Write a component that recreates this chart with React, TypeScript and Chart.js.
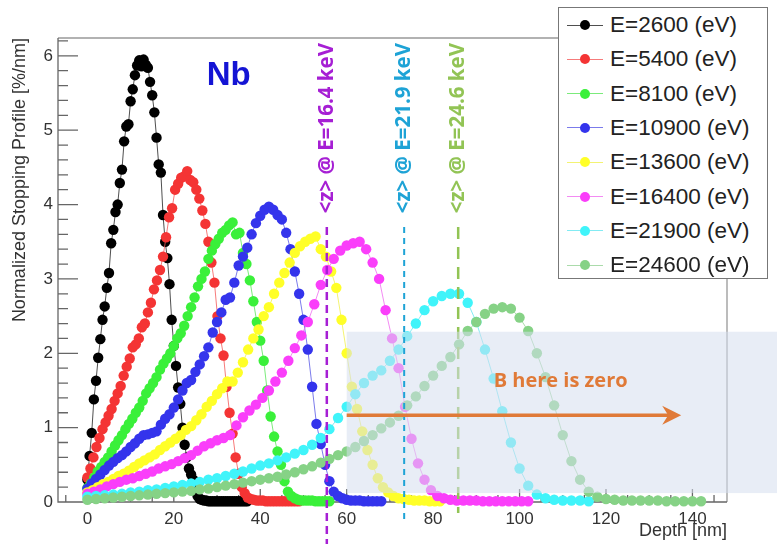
import React, { useEffect, useRef } from 'react';
import { Chart, registerables } from 'chart.js';

Chart.register(...registerables);

// Beam energies (eV), one curve each
const energies = [2600, 5400, 8100, 10900, 13600, 16400, 21900, 24600];

// [depth nm, normalized stopping profile %/nm]
const profile2600: [number, number][] = [
  [0, 0.3], [0.5, 0.62], [1, 0.93], [1.5, 1.38], [2, 1.63], [2.5, 1.94], [3, 2.19], [3.5, 2.45], [4, 2.63], [4.5, 2.88],
  [5, 3.08], [5.5, 3.48], [6, 3.66], [6.5, 3.9], [7, 4.0], [7.5, 4.29], [8, 4.47], [8.5, 4.85], [9, 5.05], [9.5, 5.08],
  [10, 5.39], [10.5, 5.55], [11, 5.74], [11.5, 5.87], [12, 5.94], [12.5, 5.86], [13, 5.95], [13.5, 5.88], [14, 5.84], [14.5, 5.65],
  [15, 5.47], [15.5, 5.24], [16, 4.9], [16.5, 4.54], [17, 4.43], [17.5, 3.86], [18, 3.5], [18.5, 3.28], [19, 2.93], [19.5, 2.45],
  [20, 2.1], [20.5, 1.83], [21, 1.54], [21.5, 1.32], [22, 1.0], [22.5, 0.77], [23, 0.6], [23.5, 0.45], [24, 0.37], [24.5, 0.3],
  [25, 0.16], [25.5, 0.08], [26, 0.04], [26.5, 0.03], [27, 0.02], [27.5, 0.02], [28, 0.01], [28.5, 0.01], [29, 0.01], [29.5, 0.01],
  [30, 0.01], [30.5, 0.01], [31, 0.01], [31.5, 0.01], [32, 0.01], [32.5, 0.01], [33, 0.01], [33.5, 0.01], [34, 0.01], [34.5, 0.01],
  [35, 0.01], [35.5, 0.01], [36, 0.01], [36.5, 0.01], [37, 0.01],
];

const profile5400: [number, number][] = [
  [0, 0.33], [0.7, 0.45], [1.4, 0.6], [2.1, 0.74], [2.8, 0.86], [3.5, 0.98], [4.2, 1.07], [4.9, 1.16], [5.6, 1.25], [6.3, 1.36],
  [7.0, 1.46], [7.7, 1.56], [8.4, 1.7], [9.1, 1.82], [9.8, 1.93], [10.5, 2.08], [11.2, 2.12], [11.9, 2.2], [12.6, 2.35], [13.3, 2.4],
  [14.0, 2.55], [14.7, 2.68], [15.4, 2.86], [16.1, 2.98], [16.8, 3.12], [17.5, 3.3], [18.2, 3.56], [18.9, 3.83], [19.6, 3.95], [20.3, 4.2],
  [21.0, 4.28], [21.7, 4.36], [22.4, 4.38], [23.1, 4.45], [23.8, 4.33], [24.5, 4.3], [25.2, 4.2], [25.9, 4.08], [26.6, 3.92], [27.3, 3.74],
  [28.0, 3.5], [28.7, 3.22], [29.4, 2.95], [30.1, 2.5], [30.8, 2.2], [31.5, 1.97], [32.2, 1.55], [32.9, 1.2], [33.6, 0.92], [34.3, 0.6],
  [35.0, 0.38], [35.7, 0.2], [36.4, 0.12], [37.1, 0.06], [37.8, 0.04], [38.5, 0.03], [39.2, 0.02], [39.9, 0.02], [40.6, 0.02], [41.3, 0.01],
  [42.0, 0.01], [42.7, 0.01], [43.4, 0.01], [44.1, 0.01], [44.8, 0.01], [45.5, 0.01], [46.2, 0.01], [46.9, 0.01], [47.6, 0.01], [48.3, 0.01],
  [49.0, 0.01],
];

const profile8100: [number, number][] = [
  [0, 0.19], [0.8, 0.25], [1.6, 0.33], [2.4, 0.41], [3.2, 0.47], [4.0, 0.54], [4.8, 0.6], [5.6, 0.68], [6.4, 0.76], [7.2, 0.83],
  [8.0, 0.9], [8.8, 0.98], [9.6, 1.05], [10.4, 1.12], [11.2, 1.2], [12.0, 1.27], [12.8, 1.36], [13.6, 1.46], [14.4, 1.53], [15.2, 1.6],
  [16.0, 1.68], [16.8, 1.78], [17.6, 1.86], [18.4, 1.93], [19.2, 2.0], [20.0, 2.1], [20.8, 2.2], [21.6, 2.27], [22.4, 2.37], [23.2, 2.5],
  [24.0, 2.62], [24.8, 2.75], [25.6, 2.9], [26.4, 3.0], [27.2, 3.1], [28.0, 3.27], [28.8, 3.38], [29.6, 3.47], [30.4, 3.54], [31.2, 3.62],
  [32.0, 3.66], [32.8, 3.72], [33.6, 3.76], [34.4, 3.6], [35.2, 3.62], [36.0, 3.35], [36.8, 3.2], [37.6, 2.98], [38.4, 2.7], [39.2, 2.42],
  [40.0, 2.17], [40.8, 1.9], [41.6, 1.5], [42.4, 1.15], [43.2, 0.88], [44.0, 0.68], [44.8, 0.5], [45.6, 0.28], [46.4, 0.14], [47.2, 0.08],
  [48.0, 0.05], [48.8, 0.03], [49.6, 0.02], [50.4, 0.02], [51.2, 0.02], [52.0, 0.02], [52.8, 0.01], [53.6, 0.01], [54.4, 0.01], [55.2, 0.01],
  [56.0, 0.01],
];

const profile10900: [number, number][] = [
  [0, 0.18], [1, 0.25], [2, 0.31], [3, 0.37], [4, 0.43], [5, 0.49], [6, 0.54], [7, 0.59], [8, 0.63], [9, 0.68],
  [10, 0.74], [11, 0.79], [12, 0.85], [13, 0.9], [14, 0.91], [15, 0.93], [16, 0.95], [17, 1.04], [18, 1.12], [19, 1.18],
  [20, 1.27], [21, 1.38], [22, 1.5], [23, 1.6], [24, 1.64], [25, 1.75], [26, 1.85], [27, 1.96], [28, 2.08], [29, 2.28],
  [30, 2.42], [31, 2.55], [32, 2.72], [33, 2.75], [34, 2.95], [35, 3.18], [36, 3.3], [37, 3.42], [38, 3.6], [39, 3.75],
  [40, 3.85], [41, 3.93], [42, 3.97], [43, 3.93], [44, 3.86], [45, 3.8], [46, 3.62], [47, 3.4], [48, 3.1], [49, 2.8],
  [50, 2.45], [51, 2.05], [52, 1.55], [53, 1.05], [54, 0.78], [55, 0.5], [56, 0.28], [57, 0.14], [58, 0.08], [59, 0.05],
  [60, 0.03], [61, 0.02], [62, 0.02], [63, 0.02], [64, 0.01], [65, 0.01], [66, 0.01], [67, 0.01], [68, 0.01],
];

const profile13600: [number, number][] = [
  [0, 0.13], [1.2, 0.16], [2.4, 0.2], [3.6, 0.24], [4.8, 0.27], [6.0, 0.31], [7.2, 0.35], [8.4, 0.38], [9.6, 0.42], [10.8, 0.47],
  [12.0, 0.52], [13.2, 0.56], [14.4, 0.6], [15.6, 0.64], [16.8, 0.7], [18.0, 0.75], [19.2, 0.8], [20.4, 0.85], [21.6, 0.9], [22.8, 0.97],
  [24.0, 1.02], [25.2, 1.1], [26.4, 1.18], [27.6, 1.28], [28.8, 1.36], [30.0, 1.45], [31.2, 1.53], [32.4, 1.62], [33.6, 1.62], [34.8, 1.74],
  [36.0, 1.88], [37.2, 2.05], [38.4, 2.2], [39.6, 2.32], [40.8, 2.5], [42.0, 2.62], [43.2, 2.8], [44.4, 2.95], [45.6, 3.08], [46.8, 3.22],
  [48.0, 3.35], [49.2, 3.44], [50.4, 3.5], [51.6, 3.54], [52.8, 3.57], [54.0, 3.4], [55.2, 3.3], [56.4, 3.1], [57.6, 2.88], [58.8, 2.45],
  [60.0, 2.0], [61.2, 1.55], [62.4, 1.25], [63.6, 0.95], [64.8, 0.7], [66.0, 0.5], [67.2, 0.32], [68.4, 0.2], [69.6, 0.13], [70.8, 0.08],
  [72.0, 0.05], [73.2, 0.04], [74.4, 0.03], [75.6, 0.02], [76.8, 0.02], [78.0, 0.02], [79.2, 0.01], [80.4, 0.01], [81.6, 0.01],
];

const profile16400: [number, number][] = [
  [0, 0.11], [1.5, 0.14], [3.0, 0.17], [4.5, 0.21], [6.0, 0.24], [7.5, 0.27], [9.0, 0.3], [10.5, 0.32], [12.0, 0.35], [13.5, 0.38],
  [15.0, 0.41], [16.5, 0.45], [18.0, 0.48], [19.5, 0.51], [21.0, 0.55], [22.5, 0.59], [24.0, 0.63], [25.5, 0.69], [27.0, 0.75], [28.5, 0.79],
  [30.0, 0.83], [31.5, 0.86], [33.0, 0.9], [34.5, 1.03], [36.0, 1.14], [37.5, 1.23], [39.0, 1.31], [40.5, 1.4], [42.0, 1.5], [43.5, 1.62],
  [45.0, 1.74], [46.5, 1.9], [48.0, 2.07], [49.5, 2.24], [51.0, 2.42], [52.5, 2.66], [54.0, 2.92], [55.5, 3.12], [57.0, 3.27], [58.5, 3.38],
  [60.0, 3.45], [61.5, 3.48], [63.0, 3.5], [64.5, 3.4], [66.0, 3.22], [67.5, 3.0], [69.0, 2.58], [70.5, 2.2], [72.0, 1.8], [73.5, 1.28],
  [75.0, 0.85], [76.5, 0.52], [78.0, 0.3], [79.5, 0.16], [81.0, 0.08], [82.5, 0.05], [84.0, 0.03], [85.5, 0.02], [87.0, 0.02], [88.5, 0.02],
  [90.0, 0.02], [91.5, 0.01], [93.0, 0.01], [94.5, 0.01], [96.0, 0.01], [97.5, 0.01], [99.0, 0.01], [100.5, 0.01], [102.0, 0.01],
];

const profile21900: [number, number][] = [
  [0, 0.07], [2, 0.08], [4, 0.09], [6, 0.1], [8, 0.11], [10, 0.13], [12, 0.14], [14, 0.16], [16, 0.17], [18, 0.19],
  [20, 0.21], [22, 0.23], [24, 0.25], [26, 0.27], [28, 0.3], [30, 0.32], [32, 0.35], [34, 0.38], [36, 0.41], [38, 0.45],
  [40, 0.49], [42, 0.52], [44, 0.56], [46, 0.6], [48, 0.65], [50, 0.7], [52, 0.77], [54, 0.86], [56, 0.98], [58, 1.13],
  [60, 1.28], [62, 1.45], [64, 1.6], [66, 1.7], [68, 1.77], [70, 1.9], [72, 2.05], [74, 2.23], [76, 2.4], [78, 2.58],
  [80, 2.7], [82, 2.77], [84, 2.8], [86, 2.8], [88, 2.68], [90, 2.42], [92, 2.05], [94, 1.66], [96, 1.22], [98, 0.8],
  [100, 0.45], [102, 0.22], [104, 0.1], [106, 0.05], [108, 0.03], [110, 0.02], [112, 0.02], [114, 0.02], [116, 0.01],
];

const profile24600: [number, number][] = [
  [0, 0.03], [2, 0.04], [4, 0.05], [6, 0.06], [8, 0.07], [10, 0.08], [12, 0.09], [14, 0.1], [16, 0.11], [18, 0.12],
  [20, 0.13], [22, 0.14], [24, 0.15], [26, 0.17], [28, 0.18], [30, 0.2], [32, 0.22], [34, 0.24], [36, 0.26], [38, 0.28],
  [40, 0.3], [42, 0.32], [44, 0.34], [46, 0.37], [48, 0.4], [50, 0.44], [52, 0.48], [54, 0.53], [56, 0.58], [58, 0.63],
  [60, 0.68], [62, 0.74], [64, 0.82], [66, 0.9], [68, 0.99], [70, 1.07], [72, 1.16], [74, 1.3], [76, 1.42], [78, 1.56],
  [80, 1.7], [82, 1.83], [84, 1.95], [86, 2.12], [88, 2.3], [90, 2.42], [92, 2.53], [94, 2.6], [96, 2.62], [98, 2.6],
  [100, 2.48], [102, 2.3], [104, 2.0], [106, 1.68], [108, 1.3], [110, 0.9], [112, 0.55], [114, 0.3], [116, 0.14], [118, 0.07],
  [120, 0.04], [122, 0.03], [124, 0.02], [126, 0.02], [128, 0.02], [130, 0.02], [132, 0.02], [134, 0.01], [136, 0.01], [138, 0.01],
  [140, 0.01], [142, 0.01],
];

const profiles = [profile2600, profile5400, profile8100, profile10900, profile13600, profile16400, profile21900, profile24600];

// mean implantation depth markers
const meanEnergiesKeV = ['16.4', '21.9', '24.6'];
const meanDepths = [55.4, 73.3, 85.8];

// annotation anchors in data units
const elementLabel = 'Nb';
const elementAt = [32.7, 5.73];
const zeroFieldText = 'B here is zero';
const zeroFieldTextAt = [109.5, 1.62];
const zeroFieldFrom = 60;
const zeroFieldBand = [0.12, 2.29];
const arrowSpan = [60, 137.4];
const arrowLevel = 1.165;

// styles
const pointColors = [
  'rgb(0,0,0)', 'rgb(244,52,52)', 'rgb(58,240,58)', 'rgb(52,52,236)',
  'rgb(255,255,40)', 'rgb(250,62,250)', 'rgb(64,244,250)', 'rgb(134,210,134)',
];
const lineColors = [
  'rgba(60,60,60,0.9)', 'rgba(244,90,90,0.8)', 'rgba(90,230,90,0.8)', 'rgba(90,90,230,0.8)',
  'rgba(240,240,80,0.8)', 'rgba(240,110,240,0.8)', 'rgba(100,230,240,0.8)', 'rgba(150,210,150,0.8)',
];
const meanColors = ['#a61fd4', '#1ea3d6', '#92c455'];
const meanDashes = [[8, 5], [6, 5], [12, 8]];
const meanWidths = [2.5, 2, 2.5];
const meanTails = [42, 22, 11];
const meanOverShade = [true, true, false];
const orange = 'rgb(224,122,56)';
const sans = '"Liberation Sans", Arial, sans-serif';

const frameAndTicks = {
  id: 'frameAndTicks',
  beforeDatasetsDraw(chart: any) {
    const { ctx, chartArea: a, scales } = chart;
    const xs = scales.x;
    const ys = scales.y;
    ctx.save();
    ctx.lineWidth = 1.3;
    ctx.strokeStyle = '#999';
    ctx.beginPath();
    ctx.moveTo(a.left, a.top);
    ctx.lineTo(a.right, a.top);
    ctx.lineTo(a.right, a.bottom);
    ctx.stroke();
    ctx.strokeStyle = '#666';
    ctx.beginPath();
    ctx.moveTo(a.left, a.top);
    ctx.lineTo(a.left, a.bottom);
    ctx.lineTo(a.right, a.bottom);
    // x ticks every 5, major every 20
    for (let v = Math.ceil(xs.min / 5) * 5; v <= xs.max; v += 5) {
      const px = xs.getPixelForValue(v);
      const len = v % 20 === 0 ? 13 : 7;
      ctx.moveTo(px, a.bottom);
      ctx.lineTo(px, a.bottom - len);
    }
    // y ticks every 0.2, major every 1
    for (let k = 0; k * 0.2 <= ys.max + 1e-9; k++) {
      const py = ys.getPixelForValue(k * 0.2);
      const len = k % 5 === 0 ? 20 : 10;
      ctx.moveTo(a.left, py);
      ctx.lineTo(a.left + len, py);
    }
    ctx.stroke();
    ctx.restore();
  },
};

const annotations = {
  id: 'annotations',
  afterDatasetsDraw(chart: any) {
    const { ctx, chartArea: a, scales } = chart;
    const xs = scales.x;
    const ys = scales.y;
    ctx.save();

    ctx.fillStyle = '#1414d4';
    ctx.font = `bold 33px ${sans}`;
    ctx.textAlign = 'center';
    ctx.textBaseline = 'middle';
    ctx.fillText(elementLabel, xs.getPixelForValue(elementAt[0]), ys.getPixelForValue(elementAt[1]));

    const drawMean = (i: number) => {
      const px = xs.getPixelForValue(meanDepths[i]);
      ctx.save();
      ctx.strokeStyle = meanColors[i];
      ctx.lineWidth = meanWidths[i];
      ctx.setLineDash(meanDashes[i]);
      ctx.beginPath();
      ctx.moveTo(px, a.top + 189);
      ctx.lineTo(px, a.bottom + meanTails[i]);
      ctx.stroke();
      ctx.setLineDash([]);
      ctx.translate(px, a.top + 5);
      ctx.rotate(-Math.PI / 2);
      ctx.fillStyle = meanColors[i];
      ctx.font = 'bold 20.5px "Open Sans", sans-serif';
      ctx.textAlign = 'right';
      ctx.textBaseline = 'middle';
      ctx.fillText(`<z> @ E=${meanEnergiesKeV[i]} keV`, 0, 0);
      ctx.restore();
    };

    meanDepths.forEach((_, i) => { if (!meanOverShade[i]) drawMean(i); });

    const sx = xs.getPixelForValue(zeroFieldFrom);
    const sTop = ys.getPixelForValue(zeroFieldBand[1]);
    const sBot = ys.getPixelForValue(zeroFieldBand[0]);
    ctx.fillStyle = 'rgba(214,222,238,0.55)';
    ctx.fillRect(sx, sTop, chart.width - sx, sBot - sTop);

    meanDepths.forEach((_, i) => { if (meanOverShade[i]) drawMean(i); });

    const ax0 = xs.getPixelForValue(arrowSpan[0]);
    const ax1 = xs.getPixelForValue(arrowSpan[1]);
    const ay = ys.getPixelForValue(arrowLevel);
    ctx.strokeStyle = orange;
    ctx.fillStyle = orange;
    ctx.lineWidth = 3.5;
    ctx.beginPath();
    ctx.moveTo(ax0, ay);
    ctx.lineTo(ax1 - 12, ay);
    ctx.stroke();
    ctx.beginPath();
    ctx.moveTo(ax1, ay);
    ctx.lineTo(ax1 - 19, ay - 9.5);
    ctx.lineTo(ax1 - 13, ay);
    ctx.lineTo(ax1 - 19, ay + 9.5);
    ctx.closePath();
    ctx.fill();

    ctx.font = 'bold 20px "Open Sans", sans-serif';
    ctx.textAlign = 'center';
    ctx.textBaseline = 'middle';
    ctx.fillText(zeroFieldText, xs.getPixelForValue(zeroFieldTextAt[0]), ys.getPixelForValue(zeroFieldTextAt[1]));
    ctx.restore();
  },
};

const App: React.FC = () => {
  const chartRef = useRef<HTMLCanvasElement | null>(null);
  const chartInstance = useRef<Chart | null>(null);

  useEffect(() => {
    if (!chartRef.current) return;
    if (chartInstance.current) chartInstance.current.destroy();
    const ctx = chartRef.current.getContext('2d');
    if (!ctx) return;

    chartInstance.current = new Chart(ctx, {
      type: 'line',
      data: {
        datasets: profiles.map((p, i) => ({
          label: `E=${energies[i]} (eV)`,
          data: p.map(([x, y]) => ({ x, y })),
          borderColor: lineColors[i],
          borderWidth: 1,
          pointRadius: 5.2,
          pointBorderWidth: 0,
          pointBackgroundColor: pointColors[i],
          pointHoverRadius: 5.2,
          clip: false as any,
          order: -i,
        })),
      },
      options: {
        responsive: false,
        animation: false,
        events: [],
        layout: { padding: { top: 38, right: 50, left: 0, bottom: 0 } },
        plugins: { legend: { display: false }, tooltip: { enabled: false } },
        scales: {
          x: {
            type: 'linear',
            min: -6.8,
            max: 148,
            grid: { display: false, drawTicks: false },
            border: { display: false },
            ticks: { stepSize: 20, includeBounds: false, padding: 7, color: '#333', font: { family: sans, size: 17 } },
            title: { display: true, text: 'Depth [nm]', align: 'end', color: '#333', font: { family: sans, size: 18 }, padding: { top: 0, bottom: 2 } },
            afterFit: (s: any) => { s.height = 42; },
          },
          y: {
            type: 'linear',
            min: 0,
            max: 6.24,
            grid: { display: false, drawTicks: false },
            border: { display: false },
            ticks: { stepSize: 1, includeBounds: false, padding: 5, color: '#333', font: { family: sans, size: 17 } },
            title: { display: true, text: 'Normalized Stopping Profile [%/nm]', align: 'end', color: '#333', font: { family: sans, size: 18 }, padding: { top: 9, bottom: 0 } },
            afterFit: (s: any) => { s.width = 58; },
          },
        },
      },
      plugins: [frameAndTicks, annotations],
    });

    return () => {
      if (chartInstance.current) {
        chartInstance.current.destroy();
        chartInstance.current = null;
      }
    };
  }, []);

  return (
    <div style={{ position: 'absolute', left: 0, top: 0, width: 777, height: 544, background: '#fff' }}>
      <canvas ref={chartRef} width={777} height={544} />
      <div
        style={{
          position: 'absolute', left: 558, top: 7, width: 210, height: 272, boxSizing: 'border-box',
          border: '1.5px solid #777', background: '#fff', fontFamily: sans, fontSize: 22.5, color: '#222',
        }}
      >
        {energies.map((e, i) => (
          <div key={e} style={{ position: 'absolute', left: 0, top: i * 34.3, height: 34, width: '100%', display: 'flex', alignItems: 'center' }}>
            <div style={{ position: 'relative', width: 36, height: 12, marginLeft: 8 }}>
              <div style={{ position: 'absolute', left: 0, right: 0, top: 5.5, height: 1, background: lineColors[i] }} />
              <div style={{ position: 'absolute', left: 13, top: 1, width: 10, height: 10, borderRadius: '50%', background: pointColors[i] }} />
            </div>
            <span style={{ marginLeft: 7, whiteSpace: 'nowrap' }}>{`E=${e} (eV)`}</span>
          </div>
        ))}
      </div>
    </div>
  );
};

export default App;
